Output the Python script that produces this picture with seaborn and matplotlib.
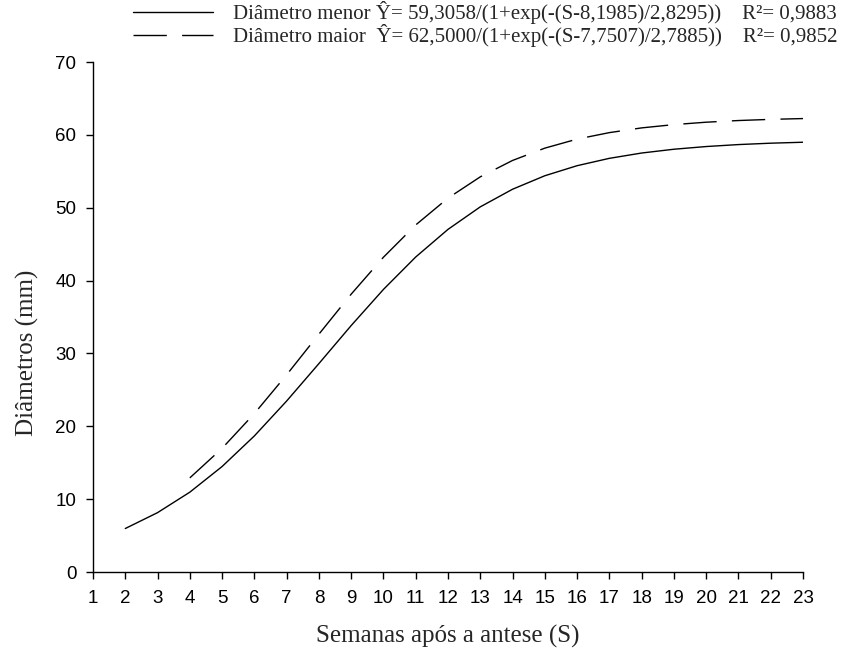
import numpy as np
import pandas as pd
import matplotlib
matplotlib.use('Agg')
import matplotlib.pyplot as plt
import seaborn as sns

# valores (semanas apos a antese)
semanas_menor = list(range(2, 24))
diam_menor = [5.97, 8.15, 10.96, 14.48, 18.68, 23.47, 28.61, 33.83, 38.79, 43.24, 47.03,
              50.12, 52.54, 54.39, 55.77, 56.78, 57.51, 58.03, 58.40, 58.67, 58.86, 58.99]
semanas_maior = list(range(4, 24))
diam_maior = [12.92, 16.98, 21.75, 27.07, 32.65, 38.14, 43.21, 47.64, 51.32, 54.24, 56.49,
              58.18, 59.42, 60.31, 60.96, 61.41, 61.74, 61.97, 62.13, 62.24]

xticks = list(range(1, 24))
yticks = [0, 10, 20, 30, 40, 50, 60, 70]
labels = ['Semanas após a antese (S)', 'Diâmetros (mm)']
leg_menor = 'Diâmetro menor Ŷ= 59,3058/(1+exp(-(S-8,1985)/2,8295))    R²= 0,9883'
leg_maior = 'Diâmetro maior  Ŷ= 62,5000/(1+exp(-(S-7,7507)/2,7885))    R²= 0,9852'

sns.set_style('ticks')
plt.rcParams['font.family'] = ['Liberation Sans', 'DejaVu Sans']

fig = plt.figure(figsize=(8.41, 6.55), dpi=100)
ax = fig.add_axes([0.1106, 0.1267, 0.8442, 0.7786])

dados_menor = pd.DataFrame({'S': semanas_menor, 'D': diam_menor})
dados_maior = pd.DataFrame({'S': semanas_maior, 'D': diam_maior})
sns.lineplot(x='S', y='D', data=dados_menor, ax=ax, color='black', linewidth=1.0, label=leg_menor)
sns.lineplot(x='S', y='D', data=dados_maior, ax=ax, color='black', linewidth=1.0,
             linestyle=(0, (24, 11)), label=leg_maior)

ax.set_xlim(1, 23)
ax.set_ylim(0, 70)
ax.set_xticks(xticks)
ax.set_yticks(yticks)
ax.tick_params(axis='both', direction='out', length=5, width=1, labelsize=13.5, colors='black')
ax.tick_params(axis='x', pad=8)
ax.tick_params(axis='y', pad=7)
for s in ['left', 'bottom']:
    ax.spines[s].set_linewidth(1)
    ax.spines[s].set_color('black')
sns.despine(ax=ax)

ax.set_xlabel(labels[0], fontsize=18, family=['Liberation Serif'], labelpad=13)
ax.set_ylabel(labels[1], fontsize=18, family=['Liberation Serif'], labelpad=12, y=0.43)

ax.legend(loc='upper right', bbox_to_anchor=(838 / 841, 1 - 1 / 655), bbox_transform=fig.transFigure,
          frameon=False, prop={'family': 'Liberation Serif', 'size': 15},
          handlelength=3.84, handletextpad=1.0, labelspacing=0.0, borderpad=0, borderaxespad=0)

plt.savefig('out.png', dpi=100, facecolor='w', edgecolor='w')
